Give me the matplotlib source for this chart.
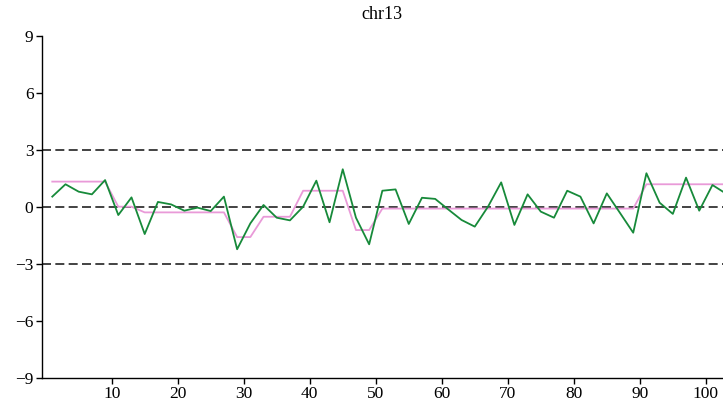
import matplotlib
matplotlib.use("Agg")
import matplotlib.pyplot as plt
import numpy as np

plt.rcParams['font.family'] = ['Liberation Serif', 'DejaVu Serif']

positions = list(range(1, 104, 2))
log_ratio = [0.53, 1.18, 0.79, 0.65, 1.40, -0.44, 0.49, -1.44, 0.25, 0.12,
             -0.21, -0.05, -0.23, 0.53, -2.24, -0.88, 0.09, -0.58, -0.72, 0.0,
             1.37, -0.82, 1.97, -0.58, -1.98, 0.84, 0.91, -0.91, 0.47, 0.41,
             -0.15, -0.70, -1.05, 0.0, 1.28, -0.96, 0.65, -0.26, -0.58, 0.84,
             0.53, -0.88, 0.70, -0.33, -1.37, 1.76, 0.21, -0.38, 1.53, -0.21,
             1.14, 0.70]
segment = [1.32]*5 + [0.0]*2 + [-0.3]*7 + [-1.6]*2 + [-0.53]*3 + [0.84]*4 + \
          [-1.23]*2 + [-0.1]*20 + [1.18]*7
thresholds = [3, 0, -3]
yticks = [-9, -6, -3, 0, 3, 6, 9]
xticks = [10, 20, 30, 40, 50, 60, 70, 80, 90, 100]

fig = plt.figure(figsize=(7.23, 4.13), dpi=100)
ax = fig.add_axes([0.0577, 0.0855, 0.9423, 0.8281])

for t in thresholds:
    ax.axhline(t, color='#222222', lw=1.2, ls=(0, (5.4, 2.6)), zorder=1)

ax.plot(positions, segment, color='#e99ad8', lw=1.3, zorder=2)
ax.plot(positions, log_ratio, color='#178a3a', lw=1.3, zorder=3)

ax.set_xlim(-0.6, 102.6)
ax.set_ylim(-9, 9)
ax.set_yticks(yticks)
ax.set_yticklabels([str(v).replace('-', '\u2212') for v in yticks])
ax.set_xticks(xticks)
ax.spines['top'].set_visible(False)
ax.spines['right'].set_visible(False)
for s in ['left', 'bottom']:
    ax.spines[s].set_linewidth(1.0)
ax.tick_params(direction='out', length=4, width=1, labelsize=12.5, pad=2)
ax.set_title('chr13', fontsize=13, pad=12)

fig.savefig('out.png', dpi=100)
